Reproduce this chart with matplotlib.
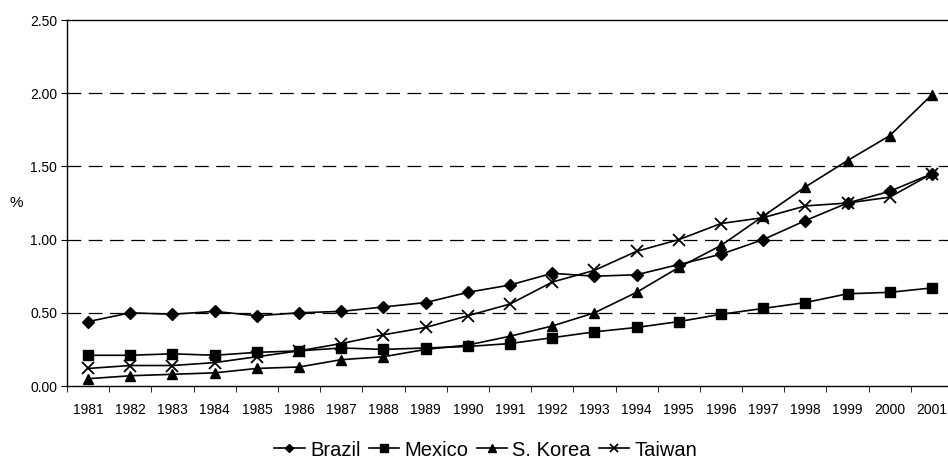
import matplotlib
matplotlib.use('Agg')
import matplotlib.pyplot as plt
import numpy as np

plt.rcParams['font.family'] = ['Liberation Sans', 'DejaVu Sans']

years = [str(y) for y in range(1981, 2002)]
brazil = [0.44, 0.50, 0.49, 0.51, 0.48, 0.50, 0.51, 0.54, 0.57, 0.64, 0.69,
          0.77, 0.75, 0.76, 0.83, 0.90, 1.00, 1.13, 1.25, 1.33, 1.45]
mexico = [0.21, 0.21, 0.22, 0.21, 0.23, 0.24, 0.26, 0.25, 0.26, 0.27, 0.29,
          0.33, 0.37, 0.40, 0.44, 0.49, 0.53, 0.57, 0.63, 0.64, 0.67]
korea = [0.05, 0.07, 0.08, 0.09, 0.12, 0.13, 0.18, 0.20, 0.25, 0.28, 0.34,
         0.41, 0.50, 0.64, 0.81, 0.96, 1.16, 1.36, 1.54, 1.71, 1.99]
taiwan = [0.12, 0.14, 0.14, 0.16, 0.20, 0.24, 0.29, 0.35, 0.40, 0.48, 0.56,
          0.71, 0.79, 0.92, 1.00, 1.11, 1.15, 1.23, 1.25, 1.29, 1.45]

fig = plt.figure(figsize=(9.48, 4.59), dpi=100)
ax = fig.add_axes([0.0707, 0.159, 0.9346, 0.7974])

x = np.arange(len(years))
ax.plot(x, brazil, color='black', lw=1.2, marker='D', ms=6, label='Brazil')
ax.plot(x, mexico, color='black', lw=1.2, marker='s', ms=7, label='Mexico')
ax.plot(x, korea, color='black', lw=1.2, marker='^', ms=7.5, label='S. Korea')
ax.plot(x, taiwan, color='black', lw=1.2, marker='x', ms=8, mew=1.3, label='Taiwan')

ax.set_xlim(-0.5, len(years) - 0.5)
ax.set_ylim(0, 2.5)
ax.set_yticks([0, 0.5, 1.0, 1.5, 2.0, 2.5])
ax.set_yticklabels(['%.2f' % v for v in [0, 0.5, 1.0, 1.5, 2.0, 2.5]], fontsize=10)
ax.set_xticks(x)
ax.set_xticklabels(years, fontsize=10)
ax.set_xticks(np.arange(len(years) + 1) - 0.5, minor=True)
ax.tick_params(axis='x', which='major', length=0, pad=12)
ax.tick_params(axis='x', which='minor', length=4, direction='out')
ax.tick_params(axis='y', length=4, direction='out', pad=3)

for v in [0.5, 1.0, 1.5, 2.0]:
    ax.axhline(v, color='black', lw=0.9, dashes=(11, 6), zorder=0)

ax.spines['right'].set_visible(False)
for s in ['left', 'top', 'bottom']:
    ax.spines[s].set_linewidth(1.0)

fig.text(16 / 948, 1 - 203 / 459, '%', fontsize=11, ha='center', va='center')

fig.legend(loc='center', bbox_to_anchor=(486 / 948, 1 - 450 / 459), ncol=4,
           frameon=False, fontsize=14.5, handlelength=1.5, handletextpad=0.28,
           columnspacing=0.4, numpoints=1, markerscale=0.75,
           borderpad=0, borderaxespad=0)

fig.savefig('out.png', dpi=100)
